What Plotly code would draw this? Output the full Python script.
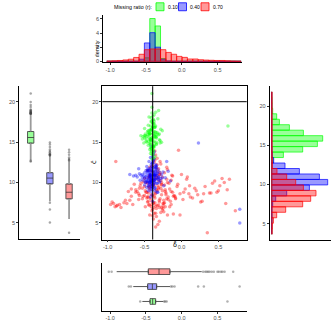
import plotly.graph_objects as go

# ---- groups -------------------------------------------------------------
ratio_labels = ["0.10", "0.40", "0.70"]
line_colors = ["#00FF00", "#0000FF", "#FF0000"]
fill_colors = ["rgba(0,255,0,0.4)", "rgba(0,0,255,0.4)", "rgba(255,0,0,0.4)"]
box_fills = ["#99FF99", "#9999FF", "#FF9999"]

true_delta = -0.39
true_c = 20

# ---- scatter points (delta_hat, c_hat) ------------------------------------
green_x = [-0.41, -0.38, -0.43, -0.36, -0.40, -0.45, -0.39, -0.34, -0.42, -0.37,
           -0.50, -0.40, -0.29, -0.41, -0.38, -0.53, -0.39, -0.27, -0.42, -0.37,
           -0.40, -0.43, -0.36, -0.39, -0.41, -0.38, -0.44, -0.35, -0.40, -0.42,
           -0.37, -0.45, -0.39, -0.34, -0.41, -0.38, -0.43, -0.36, -0.40, -0.47,
           -0.39, -0.26, -0.42, -0.38, -0.51, -0.36, -0.40, -0.47, -0.31, -0.43,
           -0.39, -0.35, -0.42, -0.38, -0.46, -0.40, -0.36, -0.41, -0.44, -0.39,
           -0.37, -0.42, -0.34, -0.40, -0.45, -0.38, -0.41, -0.36, -0.43, -0.39,
           -0.48, -0.31, -0.40, -0.37, -0.42, -0.39, -0.50, -0.30, -0.38, 0.63,
           -0.49, -0.30, -0.41, -0.38, -0.55, -0.28, -0.40, -0.48, -0.37, -0.33,
           -0.42, -0.35, -0.45, -0.38, -0.40, -0.36, -0.43, -0.41, -0.34, -0.39,
           -0.52, -0.32, -0.42, -0.46, -0.29, -0.44, -0.38, -0.50, -0.34, -0.43,
           -0.39, -0.45, -0.33, -0.40, -0.42, -0.37, -0.49, -0.38, -0.41, -0.35]
green_y = [15.2, 16.1, 14.8, 15.9, 15.5, 16.4, 14.3, 15.7, 17.0, 15.1,
           15.8, 16.7, 14.9, 13.9, 16.3, 15.4, 17.4, 15.0, 16.0, 14.6,
           15.6, 14.1, 16.8, 18.2, 15.3, 17.8, 15.9, 16.2, 13.5, 16.5,
           14.4, 15.1, 16.9, 14.7, 17.6, 15.5, 16.0, 13.2, 18.6, 15.7,
           14.0, 16.4, 15.2, 17.2, 14.9, 15.8, 16.6, 15.0, 18.9, 16.1,
           14.5, 17.0, 15.4, 13.7, 15.9, 19.3, 16.3, 14.2, 15.6, 17.7,
           16.8, 15.3, 14.8, 12.9, 16.2, 15.0, 18.0, 15.7, 16.5, 14.6,
           15.4, 15.9, 21.0, 17.3, 14.3, 16.9, 15.5, 16.0, 13.0, 17.0,
           16.0, 15.3, 17.5, 14.5, 15.8, 16.6, 13.8, 15.1, 18.4, 16.2,
           14.7, 15.6, 17.1, 15.9, 14.2, 16.9, 15.4, 16.5, 15.0, 13.4,
           15.7, 17.9, 14.9, 16.3, 15.2, 18.1, 14.4, 16.7, 15.5, 16.1,
           17.3, 14.6, 16.0, 15.3, 13.6, 17.6, 15.8, 14.0, 16.4, 18.7]

blue_x = [-0.41, -0.36, -0.45, -0.38, -0.50, -0.33, -0.42, -0.39, -0.47, -0.35,
          -0.40, -0.44, -0.31, -0.43, -0.37, -0.52, -0.40, -0.34, -0.46, -0.38,
          -0.42, -0.29, -0.39, -0.48, -0.36, -0.41, -0.55, -0.33, -0.43, -0.40,
          -0.37, -0.45, -0.26, -0.41, -0.38, -0.49, -0.35, -0.42, -0.39, -0.57,
          -0.32, -0.44, -0.40, -0.36, -0.47, -0.30, -0.41, -0.38, -0.43, -0.35,
          -0.51, -0.39, -0.42, -0.28, -0.37, -0.45, -0.40, -0.34, -0.60, -0.41,
          -0.38, -0.44, -0.33, -0.46, -0.39, -0.24, -0.42, -0.36, -0.48, -0.40,
          -0.37, -0.53, -0.31, -0.43, -0.39, -0.65, -0.35, -0.41, -0.45, -0.38,
          -0.22, -0.42, -0.36, -0.49, -0.40, -0.34, -0.70, -0.44, -0.18, -0.39,
          -0.47, -0.37, -0.15, -0.41, -0.58, -0.32, 0.23, 0.79, 0.79, -0.20,
          -0.43, -0.37, -0.40, -0.46, -0.34, -0.41, -0.38, -0.50, -0.36, -0.42,
          -0.39, -0.44, -0.32, -0.40, -0.47, -0.35, -0.41, -0.38, -0.53, -0.30,
          -0.42, -0.37, -0.45, -0.39, -0.33, -0.41, -0.48, -0.36, -0.40, -0.44,
          -0.38, -0.27, -0.43, -0.39, -0.56, -0.35, -0.41, -0.46, -0.37, -0.40,
          -0.34, -0.42, -0.50, -0.38, -0.31, -0.44, -0.39, -0.36, -0.62, -0.25]
blue_y = [10.4, 11.0, 10.1, 10.8, 10.6, 9.9, 11.3, 10.2, 10.9, 11.6,
          10.5, 9.6, 10.7, 11.1, 10.0, 10.3, 12.0, 10.6, 11.4, 9.8,
          10.9, 10.2, 11.8, 10.4, 9.4, 10.7, 10.9, 11.2, 10.0, 12.4,
          10.3, 11.5, 10.6, 9.2, 11.0, 10.1, 12.2, 10.8, 9.7, 11.1,
          10.4, 11.7, 9.5, 10.9, 10.2, 11.3, 10.6, 12.7, 10.0, 11.4,
          10.8, 9.1, 11.0, 10.5, 12.9, 10.3, 11.6, 9.9, 10.7, 10.2,
          11.9, 10.6, 8.8, 11.2, 10.4, 9.6, 13.1, 10.9, 11.5, 8.5,
          10.1, 11.0, 10.7, 9.3, 12.5, 10.8, 11.8, 10.3, 9.0, 13.5,
          10.6, 8.2, 11.3, 10.0, 9.8, 12.1, 11.0, 10.5, 11.4, 7.7,
          9.4, 13.8, 10.2, 14.5, 11.7, 8.8, 14.9, 6.7, 5.0, 12.6,
          10.7, 10.3, 11.5, 10.0, 10.9, 12.2, 9.7, 11.2, 10.5, 11.0,
          9.4, 10.8, 11.6, 10.1, 12.0, 10.4, 9.9, 11.3, 10.6, 10.0,
          11.8, 10.9, 9.6, 12.4, 11.1, 10.2, 10.7, 9.3, 11.4, 12.6,
          10.5, 11.0, 9.8, 13.2, 10.3, 12.0, 8.9, 11.6, 10.8, 9.5,
          11.9, 10.1, 9.7, 11.1, 10.4, 11.5, 12.8, 9.0, 10.9, 11.3]

red_x = [-0.35, -0.28, -0.42, -0.31, -0.46, -0.22, -0.38, -0.33, -0.50, -0.26,
         -0.40, -0.18, -0.44, -0.30, -0.36, -0.55, -0.24, -0.39, -0.12, -0.47,
         -0.32, -0.41, -0.20, -0.37, -0.58, -0.29, -0.43, -0.15, -0.34, -0.48,
         -0.27, -0.39, -0.62, -0.23, -0.36, -0.08, -0.45, -0.31, -0.40, -0.19,
         -0.52, -0.33, -0.25, -0.44, -0.02, -0.37, -0.66, -0.29, -0.41, -0.14,
         -0.35, -0.49, -0.21, -0.38, 0.05, -0.30, -0.43, -0.56, -0.27, -0.10,
         -0.36, -0.46, -0.17, -0.32, -0.70, -0.40, 0.10, -0.26, -0.34, -0.53,
         -0.22, -0.42, -0.06, -0.38, -0.28, -0.60, 0.15, -0.33, -0.45, -0.13,
         -0.37, -0.24, -0.74, 0.02, -0.31, -0.41, -0.19, -0.50, 0.20, -0.35,
         -0.27, -0.44, -0.09, -0.39, -0.64, -0.30, 0.26, -0.23, -0.47, -0.16,
         -0.34, 0.07, -0.78, -0.40, -0.28, 0.32, -0.36, -0.57, -0.11, -0.43,
         0.38, -0.25, -0.32, -0.68, 0.00, -0.38, 0.45, -0.20, -0.84, -0.46,
         0.52, -0.29, -0.04, -0.90, 0.58, -0.35, -0.94, 0.62, -0.87, 0.12,
         -0.82, 0.28, -0.92, 0.48, 0.55, -0.89, 0.35, 0.65, 0.73, -0.02,
         0.42, -0.72, 0.18, -0.14, 0.60, -0.96, 0.30, 0.50, -0.88, 0.08,
         -0.33, -0.45, -0.27, -0.38, -0.52, -0.21, -0.41, -0.30, -0.36, -0.48,
         -0.24, -0.43, -0.16, -0.35, -0.58, -0.29, -0.40, -0.11, -0.46, -0.32,
         -0.26, -0.39, -0.62, -0.19, -0.34, -0.44, -0.05, -0.37, -0.53, -0.23,
         -0.31, -0.42, -0.14, -0.28, -0.49, -0.36, 0.03, -0.40, -0.25, -0.57,
         -0.33, -0.18, -0.45, -0.30, 0.11, -0.38, -0.68, -0.22, -0.35, -0.08,
         -0.43, -0.27, 0.22, -0.50, -0.31, -0.12, -0.39, 0.40, -0.76, -0.20]
red_y = [8.6, 9.3, 8.0, 10.2, 7.6, 8.9, 9.8, 7.2, 8.4, 9.0,
         10.8, 8.2, 9.5, 7.8, 8.7, 9.9, 7.4, 11.3, 8.8, 8.1,
         9.6, 7.0, 10.4, 8.3, 7.9, 11.0, 9.1, 7.7, 6.8, 10.0,
         8.5, 12.1, 8.8, 9.7, 7.5, 8.1, 10.6, 9.2, 6.5, 11.6,
         8.3, 10.9, 7.1, 9.4, 8.6, 12.5, 7.3, 8.0, 9.8, 10.3,
         6.2, 9.0, 8.7, 10.1, 9.2, 7.6, 11.9, 9.6, 6.9, 8.4,
         12.8, 8.2, 9.9, 11.4, 7.8, 7.3, 8.6, 10.7, 5.8, 9.3,
         7.0, 10.3, 9.5, 5.5, 12.3, 8.9, 8.1, 13.0, 7.7, 10.9,
         9.6, 6.4, 7.4, 7.9, 11.7, 8.5, 6.0, 10.5, 9.0, 13.4,
         10.0, 7.2, 8.3, 6.7, 9.8, 5.2, 7.6, 11.2, 8.8, 7.0,
         9.1, 10.4, 7.5, 12.0, 6.3, 9.5, 13.9, 8.4, 6.1, 10.8,
         8.7, 7.4, 4.8, 9.2, 11.0, 6.9, 10.2, 8.0, 7.3, 11.5,
         9.6, 12.6, 14.0, 7.0, 10.0, 4.5, 7.6, 9.1, 7.2, 8.2,
         6.9, 7.7, 7.4, 8.8, 10.5, 12.6, 3.8, 10.4, 6.5, 6.0,
         9.9, 8.9, 9.3, 7.3, 7.4, 7.3, 8.6, 9.0, 7.1, 10.7,
         9.0, 8.2, 9.7, 7.4, 10.1, 8.5, 9.5, 6.9, 10.4, 8.8,
         7.8, 10.9, 9.2, 7.1, 8.6, 11.2, 7.7, 8.3, 9.9, 10.6,
         6.6, 8.4, 9.1, 10.0, 11.8, 7.3, 9.8, 6.2, 8.0, 7.5,
         9.4, 11.5, 8.9, 10.3, 7.0, 8.1, 8.8, 10.2, 6.8, 9.3,
         12.2, 7.9, 8.7, 11.0, 9.6, 7.5, 8.3, 9.1, 10.7, 8.0,
         6.0, 9.8, 8.5, 9.5, 7.2, 10.8, 5.9, 8.7, 7.8, 11.9]

# ---- top histogram of delta_hat (density) ----------------------------------
delta_bins = [-1.01, -0.935, -0.86, -0.785, -0.71, -0.635, -0.56, -0.485, -0.41,
              -0.335, -0.26, -0.185, -0.11, -0.035, 0.04, 0.115, 0.19, 0.265,
              0.34, 0.415, 0.49, 0.565, 0.64, 0.715, 0.79]
delta_dens_green = [0, 0, 0, 0, 0, 0, 0, 0.5, 6.05, 5.0, 0.4, 0, 0, 0, 0, 0, 0, 0,
                    0, 0, 0, 0, 0, 0, 0]
delta_dens_blue = [0, 0, 0, 0, 0, 0, 0.3, 2.6, 4.05, 2.0, 0.3, 0.05, 0, 0, 0, 0, 0, 0,
                   0, 0, 0, 0, 0, 0, 0]
delta_dens_red = [0.05, 0.08, 0.12, 0.2, 0.3, 0.55, 1.0, 1.65, 1.75, 1.75, 1.65, 1.26,
                  1.0, 0.7, 0.56, 0.33, 0.33, 0.23, 0.18, 0.15, 0.12, 0.12, 0.08,
                  0.05, 0.03]

# ---- right histogram of c_hat ----------------------------------------------
c_bins = [21.5, 20.8, 20.1, 19.4, 18.7, 18.0, 17.3, 16.6, 15.9, 15.2, 14.5, 13.8,
          13.1, 12.4, 11.7, 11.0, 10.3, 9.6, 8.9, 8.2, 7.5, 6.8, 6.1, 5.4, 4.7, 4.0]
c_cnt_green = [0, 0.3, 0.4, 1.0, 5.0, 7.7, 17.7, 31.7, 51.0, 45.7, 31.0, 11.7,
               1.5, 0, 0, 0, 0, 0, 0, 0, 0, 0, 0, 0, 0, 0]
c_cnt_blue = [0, 0, 0, 0, 0, 0, 0, 0, 0, 0, 0.3, 0.6,
              2.0, 13.3, 27.7, 47.7, 56.0, 37.7, 15.0, 4.0, 1.0, 0.3, 0.3, 0.3, 0, 0]
c_cnt_red = [0.4, 0.4, 0.4, 0.4, 0.4, 0.4, 0.4, 0.4, 0.4, 0.4, 0.4, 0.5,
             0.7, 0.7, 5.3, 15.0, 24.0, 31.7, 44.3, 39.0, 31.0, 14.0, 5.0, 1.7, 0.7, 0.5]

# ---- box plot summaries: c_hat (left) ---------------------------------------
c_q1 = [14.87, 9.83, 7.98]
c_med = [15.57, 10.55, 8.8]
c_q3 = [16.31, 11.22, 9.83]
c_lo = [12.75, 7.7, 5.5]
c_hi = [18.45, 13.3, 12.6]
c_out = [
    [21.0, 19.95, 19.6, 19.35, 19.05, 18.95, 18.85, 18.78, 18.72, 18.66, 18.62,
     18.58, 18.55, 18.52, 18.5, 12.6, 12.68],
    [14.95, 14.7, 14.4, 14.1, 13.9, 13.75, 13.6, 13.5, 13.45, 13.4, 13.35, 7.5,
     6.67, 5.05],
    [14.05, 13.75, 13.45, 13.1, 12.9, 12.8, 12.7, 3.8],
]

# ---- box plot summaries: delta_hat (bottom) ---------------------------------
d_q1 = [-0.443, -0.476, -0.467]
d_med = [-0.406, -0.41, -0.317]
d_q3 = [-0.364, -0.35, -0.164]
d_lo = [-0.55, -0.677, -0.909]
d_hi = [-0.257, -0.164, 0.28]
d_out = [
    [-0.58, -0.245, -0.23, -0.21, 0.64],
    [-0.74, -0.71, -0.15, -0.13, -0.1, 0.23, 0.31, 0.81],
    [-1.02, -0.98, 0.3, 0.33, 0.35, 0.37, 0.39, 0.42, 0.45, 0.5, 0.52, 0.55,
     0.57, 0.6, 0.72],
]
box_pos = [1, 2, 3]

W = H = 333
FONT = "Liberation Sans"
tick_font = dict(family=FONT, size=5.5, color="#4D4D4D")


def px_x(p):
    return p / W


def px_y(p):
    return 1 - p / H


def axis(**kw):
    base = dict(showline=True, linecolor="black", linewidth=0.8, ticks="outside",
                ticklen=2, tickwidth=0.6, tickcolor="#333333", showgrid=False,
                zeroline=False, tickfont=tick_font, fixedrange=True)
    base.update(kw)
    return base


fig = go.Figure()

# main scatter (red first, so the denser clouds stay readable)
for xs, ys, col in [(red_x, red_y, 2), (blue_x, blue_y, 1), (green_x, green_y, 0)]:
    fig.add_trace(go.Scatter(
        x=xs, y=ys, mode="markers", xaxis="x", yaxis="y", showlegend=False,
        marker=dict(size=3.5, color=line_colors[col], opacity=0.4, line=dict(width=0)),
        hoverinfo="skip",
    ))

# top histogram
for dens, i in [(delta_dens_green, 0), (delta_dens_blue, 1), (delta_dens_red, 2)]:
    fig.add_trace(go.Bar(
        x=delta_bins, y=dens, width=0.075, xaxis="x2", yaxis="y2",
        marker=dict(color=fill_colors[i], line=dict(color=line_colors[i], width=0.7)),
        showlegend=False, hoverinfo="skip",
    ))

# right histogram
for cnt, i in [(c_cnt_green, 0), (c_cnt_blue, 1), (c_cnt_red, 2)]:
    fig.add_trace(go.Bar(
        y=c_bins, x=cnt, width=0.7, orientation="h", xaxis="x4", yaxis="y4",
        marker=dict(color=fill_colors[i], line=dict(color=line_colors[i], width=0.7)),
        showlegend=False, hoverinfo="skip",
    ))

# left box plots (vertical)
for i in range(3):
    p = box_pos[i]
    fig.add_trace(go.Scatter(
        x=[p, p, None, p, p], y=[c_lo[i], c_q1[i], None, c_q3[i], c_hi[i]],
        mode="lines", line=dict(color="#9A9A9A", width=1.8), xaxis="x3", yaxis="y3",
        showlegend=False, hoverinfo="skip",
    ))
    fig.add_trace(go.Scatter(
        x=[p] * len(c_out[i]), y=c_out[i], mode="markers", xaxis="x3", yaxis="y3",
        marker=dict(size=2.5, color="rgba(60,60,60,0.45)"), showlegend=False,
        hoverinfo="skip",
    ))
    fig.add_trace(go.Box(
        x=[p], q1=[c_q1[i]], median=[c_med[i]], q3=[c_q3[i]],
        lowerfence=[c_q1[i]], upperfence=[c_q3[i]], orientation="v", width=0.33,
        fillcolor=box_fills[i], line=dict(color="#333333", width=0.8),
        boxpoints=False, xaxis="x3", yaxis="y3", showlegend=False, hoverinfo="skip",
    ))

# bottom box plots (horizontal)
for i in range(3):
    p = box_pos[i]
    fig.add_trace(go.Scatter(
        y=[p, p, None, p, p], x=[d_lo[i], d_q1[i], None, d_q3[i], d_hi[i]],
        mode="lines", line=dict(color="#555555", width=1.0), xaxis="x5", yaxis="y5",
        showlegend=False, hoverinfo="skip",
    ))
    fig.add_trace(go.Scatter(
        y=[p] * len(d_out[i]), x=d_out[i], mode="markers", xaxis="x5", yaxis="y5",
        marker=dict(size=2.5, color="rgba(60,60,60,0.4)"), showlegend=False,
        hoverinfo="skip",
    ))
    fig.add_trace(go.Box(
        y=[p], q1=[d_q1[i]], median=[d_med[i]], q3=[d_q3[i]],
        lowerfence=[d_q1[i]], upperfence=[d_q3[i]], orientation="h", width=0.38,
        fillcolor=box_fills[i], line=dict(color="#333333", width=0.8),
        boxpoints=False, xaxis="x5", yaxis="y5", showlegend=False, hoverinfo="skip",
    ))

# reference lines at the true values
shapes = [
    dict(type="line", xref="x", yref="y domain", x0=true_delta, x1=true_delta,
         y0=0, y1=1, line=dict(color="black", width=1)),
    dict(type="line", xref="x domain", yref="y", x0=0, x1=1, y0=true_c, y1=true_c,
         line=dict(color="black", width=1)),
]

# legend drawn by hand (swatches + labels)
annotations = [
    dict(text="Missing ratio (r):", x=px_x(153.5), y=px_y(7), xref="paper",
         yref="paper", xanchor="right", yanchor="middle", showarrow=False,
         font=dict(family=FONT, size=5.3, color="black")),
]
sw_left = [156, 178.5, 201]
for i, lab in enumerate(ratio_labels):
    shapes.append(dict(type="rect", xref="paper", yref="paper",
                       x0=px_x(sw_left[i]), x1=px_x(sw_left[i] + 8),
                       y0=px_y(10.8), y1=px_y(2.8),
                       fillcolor=fill_colors[i], line=dict(color=line_colors[i], width=0.8)))
    annotations.append(dict(text=lab, x=px_x(sw_left[i] + 10), y=px_y(7),
                            xref="paper", yref="paper", xanchor="left",
                            yanchor="middle", showarrow=False,
                            font=dict(family=FONT, size=5, color="black")))

title_font = dict(family="DejaVu Sans", size=6.5, color="black")
annotations += [
    dict(text="δ̂", x=px_x(174.5), y=px_y(253), xref="paper", yref="paper",
         showarrow=False, font=title_font),
    dict(text="ĉ", x=px_x(88), y=px_y(163), xref="paper", yref="paper",
         showarrow=False, textangle=-90, font=title_font),
    dict(text="density", x=px_x(92), y=px_y(39), xref="paper", yref="paper",
         showarrow=False, textangle=-90, font=dict(family=FONT, size=5.3, color="black")),
]

fig.update_layout(
    width=W, height=H, margin=dict(l=0, r=0, t=0, b=0),
    paper_bgcolor="white", plot_bgcolor="white", barmode="overlay",
    showlegend=False, shapes=shapes, annotations=annotations,
    xaxis=axis(domain=[px_x(102.3), px_x(246.7)], range=[-1.073, 0.884],
               tickvals=[-1.0, -0.5, 0.0, 0.5], ticktext=["-1.0", "-0.5", "0.0", "0.5"],
               mirror=True, anchor="y"),
    yaxis=axis(domain=[px_y(241), px_y(86.7)], range=[2.95, 21.92],
               tickvals=[5, 10, 15, 20], mirror=True, anchor="x"),
    xaxis2=axis(domain=[px_x(103), px_x(241.7)], range=[-1.1, 0.835],
                tickvals=[-1.0, -0.5, 0.0, 0.5], ticktext=["-1.0", "-0.5", "0.0", "0.5"],
                anchor="y2"),
    yaxis2=axis(domain=[px_y(62.7), px_y(15)], range=[-0.14, 6.56],
                tickvals=[0, 2, 4, 6], anchor="x2"),
    xaxis3=axis(domain=[px_x(19), px_x(80)], range=[0.39, 3.57], ticks="",
                showticklabels=False, anchor="y3"),
    yaxis3=axis(domain=[px_y(240), px_y(86.7)], range=[3.07, 21.92],
                tickvals=[5, 10, 15, 20], anchor="x3"),
    xaxis4=axis(domain=[px_x(269.5), px_x(331)], range=[-2.2, 59.3], ticks="",
                showticklabels=False, anchor="y4"),
    yaxis4=axis(domain=[px_y(241.5), px_y(87)], range=[2.9, 22.54],
                tickvals=[5, 10, 15, 20], anchor="x4"),
    xaxis5=axis(domain=[px_x(102.3), px_x(246.7)], range=[-1.11, 0.909],
                tickvals=[-1.0, -0.5, 0.0, 0.5], ticktext=["-1.0", "-0.5", "0.0", "0.5"],
                anchor="y5"),
    yaxis5=axis(domain=[px_y(312.7), px_y(265)], range=[0.373, 3.553], ticks="",
                showticklabels=False, anchor="x5"),
)

# the browser's default 8px body margin would shift the whole figure
fig.write_html("out.html", config={"displayModeBar": False},
               post_script="document.body.style.margin = '0px';")
